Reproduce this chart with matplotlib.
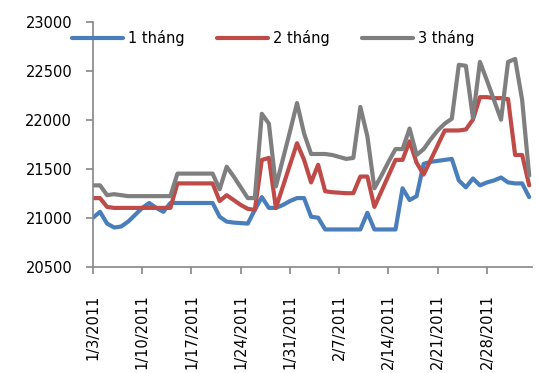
import matplotlib
matplotlib.use("Agg")
import matplotlib.pyplot as plt
import pandas as pd

# daily rates, 1/3/2011 .. 3/6/2011
dates = pd.date_range("2011-01-03", "2011-03-06", freq="D")

rate_1m = [21000, 21060, 20940, 20900, 20910, 20960, 21030, 21100, 21150, 21100,
           21060, 21150, 21150, 21150, 21150, 21150, 21150, 21150, 21010, 20960,
           20950, 20945, 20940, 21080, 21210, 21100, 21100, 21130, 21170, 21200,
           21200, 21010, 21000, 20880, 20880, 20880, 20880, 20880, 20880, 21050,
           20880, 20880, 20880, 20880, 21300, 21180, 21220, 21550, 21570, 21580,
           21590, 21600, 21380, 21310, 21400, 21330, 21360, 21380, 21410, 21360,
           21350, 21350, 21210]
rate_2m = [21200, 21200, 21110, 21100, 21100, 21100, 21100, 21100, 21100, 21100,
           21100, 21100, 21350, 21350, 21350, 21350, 21350, 21350, 21170, 21230,
           21180, 21130, 21090, 21080, 21590, 21610, 21100, 21320, 21540, 21760,
           21590, 21360, 21540, 21270, 21260, 21255, 21250, 21250, 21420, 21420,
           21110, 21270, 21430, 21590, 21590, 21780, 21560, 21440, 21590, 21740,
           21890, 21890, 21890, 21900, 22000, 22230, 22230, 22220, 22220, 22210,
           21640, 21640, 21330]
rate_3m = [21330, 21330, 21230, 21240, 21230, 21220, 21220, 21220, 21220, 21220,
           21220, 21220, 21450, 21450, 21450, 21450, 21450, 21450, 21290, 21520,
           21420, 21310, 21200, 21200, 22060, 21960, 21320, 21600, 21880, 22170,
           21860, 21650, 21650, 21650, 21640, 21620, 21600, 21610, 22130, 21830,
           21300, 21430, 21570, 21700, 21700, 21910, 21640, 21700, 21800, 21890,
           21960, 22010, 22560, 22550, 22020, 22590, 22400, 22200, 22000, 22590,
           22620, 22200, 21430]

series_names = ["1 tháng", "2 tháng", "3 tháng"]
colors = ["#4A7EBB", "#BE4B48", "#7F7F7F"]

tick_dates = pd.date_range("2011-01-03", "2011-02-28", freq="7D")
tick_labels = ["1/3/2011", "1/10/2011", "1/17/2011", "1/24/2011", "1/31/2011",
               "2/7/2011", "2/14/2011", "2/21/2011", "2/28/2011"]
y_ticks = [20500, 21000, 21500, 22000, 22500, 23000]

plt.rcParams["font.family"] = ["DejaVu Sans"]
fig = plt.figure(figsize=(5.37, 3.73), dpi=100)
ax = fig.add_axes([93 / 537, 1 - 266.7 / 373, (532 - 93) / 537, (266.7 - 21.7) / 373])

for vals, name, c in zip([rate_1m, rate_2m, rate_3m], series_names, colors):
    ax.plot(dates, vals, color=c, lw=3.0, label=name,
            solid_joinstyle="round", solid_capstyle="round")

ax.set_ylim(20500, 23000)
ax.set_yticks(y_ticks)
ax.set_xlim(dates[0], dates[0] + pd.Timedelta(days=62.4))
ax.set_xticks(tick_dates)
ax.set_xticklabels(tick_labels, rotation=90)

for side in ["top", "right"]:
    ax.spines[side].set_visible(False)
for side in ["left", "bottom"]:
    ax.spines[side].set_color("#868686")
    ax.spines[side].set_linewidth(1.2)
ax.tick_params(axis="both", colors="#868686", length=5, width=1.2,
               labelcolor="black", labelsize=10.5)
ax.tick_params(axis="y", pad=10)
ax.tick_params(axis="x", pad=15)

fig.legend(loc="center left", bbox_to_anchor=(72 / 537, 1 - 38 / 373),
           ncol=3, frameon=False, fontsize=10.5, borderpad=0, borderaxespad=0,
           handlelength=3.5, handletextpad=0.35, columnspacing=2.2)

fig.savefig("out.png", dpi=100)
